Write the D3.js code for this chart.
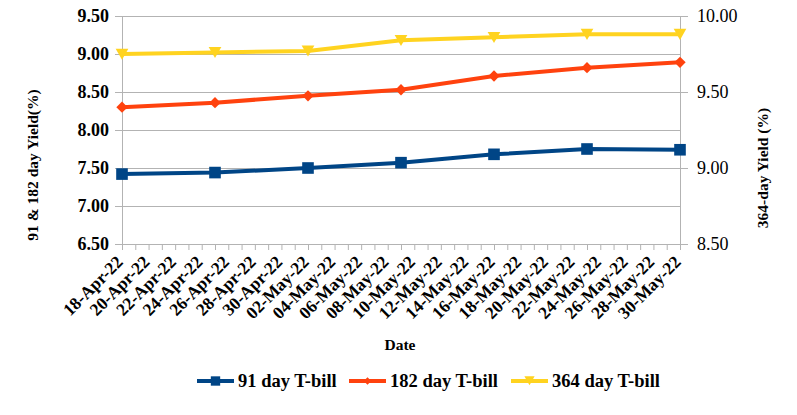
<!DOCTYPE html>
<html><head><meta charset="utf-8">
<script src="https://cdn.jsdelivr.net/npm/d3@7"></script>
<style>body{margin:0;background:#fff}svg{display:block}
svg text{font-family:"Liberation Serif","DejaVu Serif",serif !important;}
</style>
</head><body>
<script>
const dates = ["2022-04-18","2022-04-25","2022-05-02","2022-05-09","2022-05-16","2022-05-23","2022-05-30"];
const tbill91 = [7.42, 7.44, 7.50, 7.57, 7.68, 7.75, 7.74];
const tbill182 = [8.30, 8.36, 8.45, 8.53, 8.71, 8.82, 8.89];
const tbill364 = [9.75, 9.76, 9.77, 9.84, 9.86, 9.88, 9.88];
const leftTicks = [6.5, 7.0, 7.5, 8.0, 8.5, 9.0, 9.5];
const rightTicks = [8.5, 9.0, 9.5, 10.0];
const seriesNames = ["91 day T-bill", "182 day T-bill", "364 day T-bill"];
const colors = ["#004586", "#ff420e", "#ffd320"];

const W = 797, H = 415;
const m = {l:122, r:797-680, t:16, b:415-244};
const parse = d3.timeParse("%Y-%m-%d");
const fmtX = d3.timeFormat("%d-%b-%y");
const svg = d3.select("body").append("svg").attr("width", W).attr("height", H);

const x = d3.scaleTime().domain([parse(dates[0]), parse(dates[dates.length-1])]).range([m.l, W-m.r]);
const yL = d3.scaleLinear().domain([6.5, 9.5]).range([H-m.b, m.t]);
const yR = d3.scaleLinear().domain([8.5, 10.0]).range([H-m.b, m.t]);
const grid = "#b3b3b3";

svg.append("g").selectAll("line").data(leftTicks).join("line")
  .attr("x1", m.l-7).attr("x2", W-m.r).attr("y1", d=>yL(d)).attr("y2", d=>yL(d))
  .attr("stroke", grid).attr("stroke-width", 1).attr("shape-rendering","crispEdges");

const gL = svg.append("g").attr("transform", `translate(${m.l},0)`)
  .call(d3.axisLeft(yL).tickValues(leftTicks).tickFormat(d3.format(".2f")).tickSize(7).tickPadding(6));
gL.select(".domain").attr("stroke", grid);
gL.selectAll(".tick line").attr("stroke", grid);
gL.selectAll("text").style("font-weight","bold").style("font-size","18px").attr("fill","#000");

const gR = svg.append("g").attr("transform", `translate(${W-m.r},0)`)
  .call(d3.axisRight(yR).tickValues(rightTicks).tickFormat(d3.format(".2f")).tickSize(8).tickPadding(9));
gR.select(".domain").attr("stroke", grid);
gR.selectAll(".tick line").attr("stroke", grid);
gR.selectAll("text").style("font-size","18px").attr("fill","#000");

const allDays = d3.timeDay.range(parse(dates[0]), d3.timeDay.offset(parse(dates[dates.length-1]), 1));
const labelDays = allDays.filter((d,i)=> i%2===0);
const gX = svg.append("g").attr("transform", `translate(0,${H-m.b})`)
  .call(d3.axisBottom(x).tickValues(allDays).tickFormat("").tickSize(6));
gX.select(".domain").attr("stroke", grid);
gX.selectAll(".tick line").attr("stroke", grid);
svg.append("g").selectAll("text").data(labelDays).join("text")
  .attr("transform", d=>`translate(${x(d)+2},${H-m.b+19}) rotate(-45)`)
  .attr("text-anchor","end")
  .style("font-weight","bold").style("font-size","17.5px").attr("fill","#000")
  .text(d=>fmtX(d));

svg.append("text").attr("transform", `translate(38,165) rotate(-90)`)
  .attr("text-anchor","middle").style("font-weight","bold").style("font-size","15.5px")
  .text("91 & 182 day Yield(%)");
svg.append("text").attr("transform", `translate(768,168) rotate(-90)`)
  .attr("text-anchor","middle").style("font-weight","bold").style("font-size","15.5px")
  .text("364-day Yield (%)");
svg.append("text").attr("x", 400).attr("y", 350).attr("text-anchor","middle")
  .style("font-weight","bold").style("font-size","15.5px").text("Date");

const series = [
  {name: seriesNames[0], vals: tbill91, y: yL, color: colors[0], sym: d3.symbolSquare, size: 135, rot: 0, dy: 0, ls: 0.65},
  {name: seriesNames[1], vals: tbill182, y: yL, color: colors[1], sym: d3.symbolDiamond2, size: 82, rot: 0, dy: 0, ls: 0.45},
  {name: seriesNames[2], vals: tbill364, y: yR, color: colors[2], sym: d3.symbolTriangle, size: 70, rot: 180, dy: -1.7, ls: 0.65},
];
series.forEach(s => {
  const pts = dates.map((d,i)=>[x(parse(d)), s.y(s.vals[i])]);
  svg.append("path").attr("d", d3.line()(pts)).attr("fill","none")
    .attr("stroke", s.color).attr("stroke-width", 4);
  svg.append("g").selectAll("path").data(pts).join("path")
    .attr("d", d3.symbol().type(s.sym).size(s.size))
    .attr("transform", p=>`translate(${p[0]},${p[1] + s.dy}) rotate(${s.rot})`)
    .attr("fill", s.color);
});

const legX = [197, 349, 511];
series.forEach((s,i) => {
  const g = svg.append("g").attr("transform", `translate(${legX[i]},381)`);
  g.append("line").attr("x1",0).attr("x2",37).attr("stroke", s.color).attr("stroke-width", 4);
  g.append("path").attr("d", d3.symbol().type(s.sym).size(s.size*s.ls))
    .attr("transform", `translate(18.5,${s.dy}) rotate(${s.rot})`).attr("fill", s.color);
  g.append("text").attr("x", 41).attr("y", 0).attr("dy","0.35em")
    .style("font-weight","bold").style("font-size","18.5px").text(s.name);
});
</script>
</body></html>
